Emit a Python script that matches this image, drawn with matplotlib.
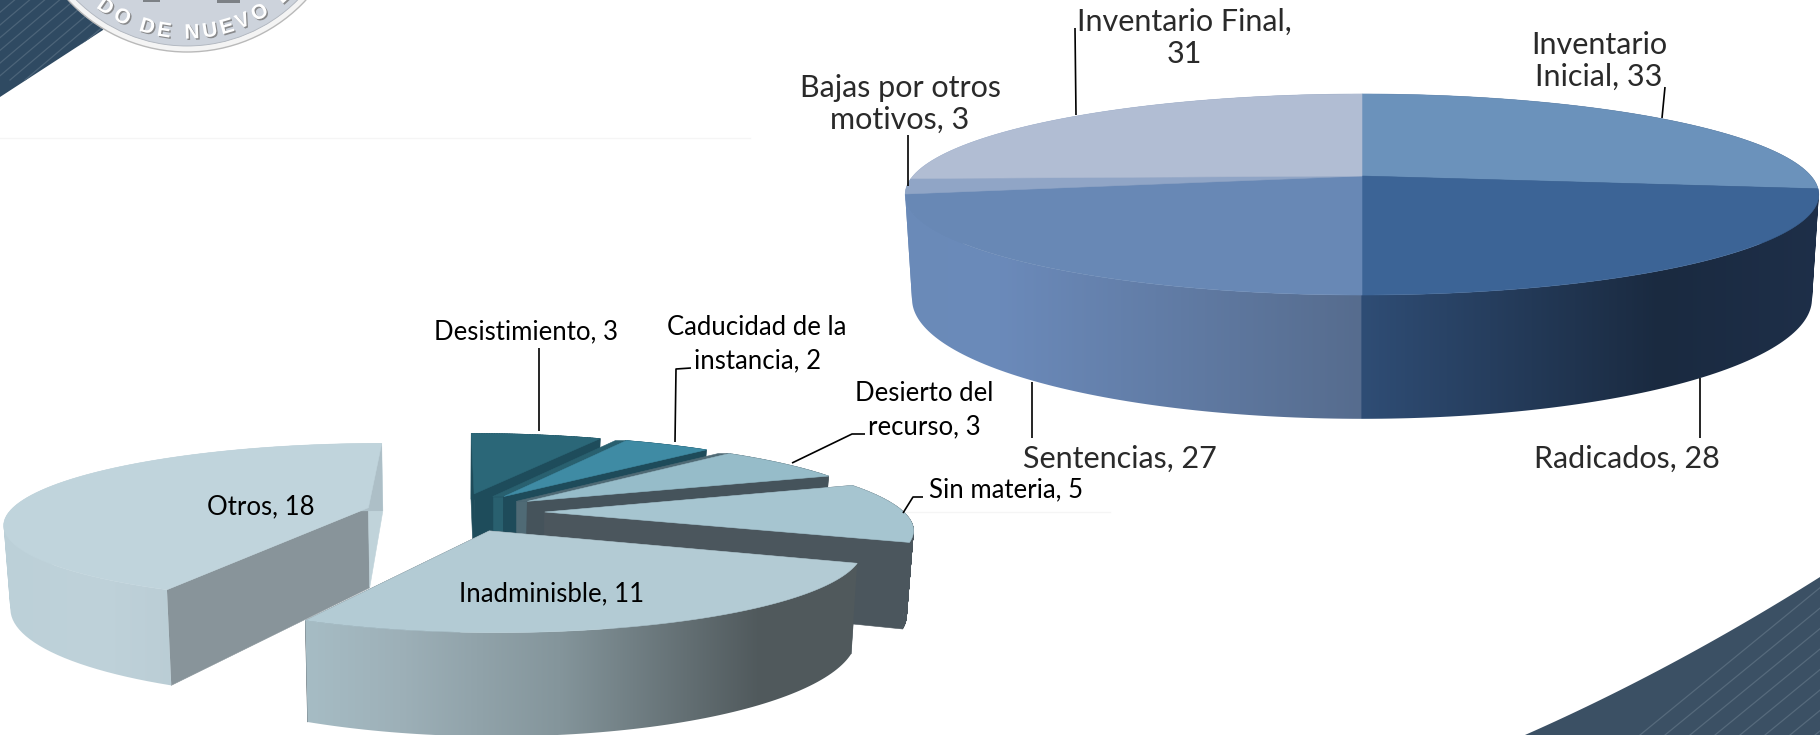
import numpy as np
import matplotlib
matplotlib.use('Agg')
import matplotlib.pyplot as plt
import matplotlib.patheffects as pe
from matplotlib.colors import to_rgb
from matplotlib.path import Path
from matplotlib.patches import Polygon, Circle, Rectangle, PathPatch

# top pie, clockwise from 12 o'clock
labels_a = ['Inventario\nInicial, 33', 'Radicados, 28', 'Sentencias, 27',
            'Bajas por otros\nmotivos, 3', 'Inventario Final,\n31']
values_a = [33, 28, 27, 3, 31]

# exploded pie, clockwise from 12 o'clock
labels_b = ['Desistimiento, 3', 'Caducidad de la\ninstancia, 2', 'Desierto del\nrecurso, 3',
            'Sin materia, 5', 'Inadminisble, 11', 'Otros, 18']
values_b = [3, 2, 3, 5, 11, 18]

# label centres and leader lines in pixels
pos_a = [(1599, 61), (1627, 459), (1120, 459), (900, 104), (1184, 38)]
pos_b = [(526, 332), (757, 344), (924, 410), (1006, 490), (552, 594), (261, 507)]
leaders = [[(1665, 87), (1662, 118)], [(1700, 378), (1700, 438)], [(1032, 382), (1032, 438)],
           [(908, 135), (908, 186)], [(1075, 28), (1076, 115)],
           [(539, 348), (539, 431)], [(691, 368), (676, 369), (675, 442)],
           [(865, 434), (852, 434), (792, 463)], [(923, 497), (913, 497), (903, 513)]]

top_a = ['#6b92bb', '#3c6496', '#6888b5', '#90a5c6', '#b1bdd3']
top_b = ['#2b6778', '#3f8ba4', '#96bcc9', '#a6c5d0', '#b3cbd4', '#c0d4dc']
start_b = ['#1e4c5b', '#1e4b5a', '#45535b', '#4a5660', '#4b565d', '#88949a']
end_b = ['#1e4c5b', '#1e4b5a', '#45535b', '#4b565d', '#4b565d', '#c0d3da']
sliver_b = {1: '#29606f', 2: '#4f6a75'}
radius_b = [1, 1, 1, 1, 0.975, 1]

K = 0.184       # perspective
RATIO = 0.2163  # tilt
DEPTH = 0.225
SHRINK = 0.985

fig = plt.figure(figsize=(18.2, 7.35), dpi=100)
ax = fig.add_axes([0, 0, 1, 1])
ax.set_axis_off()
z = [10]


def next_z():
    z[0] += 1
    return z[0]


def flat(xs, ys, color):
    ax.add_patch(Polygon(np.column_stack([xs, ys]), closed=True, fc=color, ec=color, lw=0.4, zorder=next_z()))


def band_path(x0, y0, x1, y1):
    # the wall folds over at the silhouette, so join same-handed quads
    parts = []
    for j in range(len(x0) - 1):
        q = np.array([(x0[j], y0[j]), (x0[j + 1], y0[j + 1]), (x1[j + 1], y1[j + 1]), (x1[j], y1[j])])
        area = np.sum(q[:, 0] * np.roll(q[:, 1], -1) - np.roll(q[:, 0], -1) * q[:, 1])
        if area < 0:
            q = q[::-1]
        parts.append(Path(np.vstack([q, q[0]]), closed=True))
    return Path.make_compound_path(*parts)


def flat_band(path, color):
    ax.add_patch(PathPatch(path, fc=color, ec=color, lw=0.4, zorder=next_z()))


def gradient(path, stops, colors):
    # horizontal colour ramp clipped to the wall
    grid = np.linspace(stops[0], stops[-1], 2000)
    rgb = np.array([to_rgb(c) for c in colors])
    img = np.stack([np.interp(grid, stops, rgb[:, i]) for i in range(3)], axis=-1)[None, :, :]
    im = ax.imshow(img, extent=(stops[0], stops[-1], 800, -50), aspect='auto', zorder=next_z(), interpolation='nearest')
    im.set_clip_path(path, transform=ax.transData)


def slices(values):
    ang = 90 - np.cumsum([0] + list(values)) / sum(values) * 360
    return ang[:-1], ang[1:]


def project(X, Y, cx, cy, a):
    w = 1 + K * Y
    return cx + a * X / w, cy - a * RATIO * Y / w, a * DEPTH / w


def slice_geometry(t0, t1, cx, cy, a, explode, radius=1):
    mid = np.radians((t0 + t1) / 2)
    ox, oy = explode * np.cos(mid), explode * np.sin(mid)
    t = np.radians(np.linspace(t0, t1, 80))
    ax_, ay_, ad_ = project(ox, oy, cx, cy, a)
    xs, ys, ds = project(ox + radius * np.cos(t), oy + radius * np.sin(t), cx, cy, a)
    return (ax_, ay_, ad_), xs, ys, ds


def low(x, cx):
    return cx + (x - cx) * SHRINK


# background corners
corner_tl = Polygon([(0, 0), (110, 0), (103, 30), (0, 97)], closed=True, fc='#2f4a62', ec='none', zorder=1)
ax.add_patch(corner_tl)
curve_x = np.linspace(1525, 1820, 30)
curve_y = np.polyval(np.polyfit([1525, 1700, 1820], [735, 648, 577], 2), curve_x)
corner_br = Polygon(np.column_stack([np.r_[curve_x, 1820], np.r_[curve_y, 735]]), closed=True, fc='#3b5064', ec='none', zorder=1)
ax.add_patch(corner_br)
for off in range(-60, 130, 15):
    ln, = ax.plot([off - 20, off + 110], [80, -30], color='#4c6479', lw=0.9, zorder=2)
    ln.set_clip_path(corner_tl)
for off in [1640, 1665, 1690, 1715, 1740, 1765, 1790, 1815, 1840]:
    ln, = ax.plot([off, off + 220], [735, 555], color='#566a7c', lw=0.9, zorder=2)
    ln.set_clip_path(corner_br)
ax.plot([0, 750], [138, 138], color='#f5f5f5', lw=1, zorder=1)
ax.plot([560, 1110], [512, 512], color='#f5f5f5', lw=1, zorder=1)

# seal
ax.add_patch(Circle((187, -110), 162, fc='#f4f4f4', ec='#b9b9b9', lw=1, zorder=3))
ax.add_patch(Circle((187, -110), 156, fc='#cdd3dc', ec='#aeb4bd', lw=0.6, zorder=3))
ax.add_patch(Rectangle((143, 0), 17, 2, fc='#7d8186', ec='none', zorder=4))
ax.add_patch(Rectangle((217, 0), 23, 3, fc='#7d8186', ec='none', zorder=4))
seal_text = [('D', 105), ('O', 122), ('D', 147), ('E', 164), ('N', 192), ('U', 210), ('E', 227), ('V', 243), ('O', 260), ('L', 283)]
for ch, x in seal_text:
    rot = np.degrees(np.arcsin((x - 187) / 143))
    ax.text(x, -110 + 143 * np.cos(np.radians(rot)), ch, fontsize=15, fontweight='bold', family='Liberation Sans',
            color='white', rotation=rot, ha='center', va='center', rotation_mode='anchor', zorder=5,
            clip_on=True, path_effects=[pe.withSimplePatchShadow(offset=(1, -1), shadow_rgbFace='#777777', alpha=0.8)])

# top pie
cx, cy, a = 1362, 176, 449
stops = [895, 1000, 1361, 1362, 1660, 1825]
cols = ['#6a8ab8', '#6b8aba', '#566c8e', '#2f4d75', '#1a2a40', '#1e2f49']
t0s, t1s = slices(values_a)
geom = [slice_geometry(s, e, cx, cy, a, 0) for s, e in zip(t0s, t1s)]
for (_, xs, ys, ds) in geom:
    gradient(band_path(xs, ys, low(xs, cx), ys + ds), stops, cols)
for (apex, xs, ys, ds), c in zip(geom, top_a):
    flat(np.r_[apex[0], xs], np.r_[apex[1], ys], c)

# exploded pie
cx, cy, a = 455, 512, 359
t0s, t1s = slices(values_b)
ramps = {
    4: ([280, 400, 560, 760, 870], ['#a9c0c8', '#9db0b8', '#84959b', '#50595c', '#50595c']),
    5: ([0, 100, 385], ['#bcd0d8', '#bfd2da', '#adbfc7']),
}
# Otros first, it sits apart on the left
for i in [5, 0, 1, 2, 3, 4]:
    apex, xs, ys, ds = slice_geometry(t0s[i], t1s[i], cx, cy, a, 0.25, radius_b[i])
    if i in sliver_b:
        # thin strip showing left of the slice's back edge
        dx = 11
        flat([apex[0] - dx, xs[0] - dx, xs[0], apex[0]], [apex[1], ys[0], ys[0], apex[1]], sliver_b[i])
        flat([apex[0] - dx, apex[0], apex[0], apex[0] - dx],
             [apex[1], apex[1], apex[1] + apex[2], apex[1] + apex[2]], sliver_b[i])
    for k, col in ((0, start_b[i]), (-1, end_b[i])):
        px = [apex[0], xs[k], low(xs[k], cx), low(apex[0], cx)]
        py = [apex[1], ys[k], ys[k] + ds[k], apex[1] + apex[2]]
        flat(px, py, col)
    wall = band_path(xs, ys, low(xs, cx), ys + ds)
    if i in ramps:
        gradient(wall, *ramps[i])
    else:
        flat_band(wall, end_b[i])
    flat(np.r_[apex[0], xs], np.r_[apex[1], ys], top_b[i])

# labels
for txt, (x, y) in zip(labels_a, pos_a):
    ax.text(x, y, txt, fontsize=22, family='Lato', color='#2a2a2a', ha='center', va='center',
            linespacing=1.15, zorder=200)
for txt, (x, y) in zip(labels_b, pos_b):
    ax.text(x, y, txt, fontsize=18.5, family='Lato', color='black', ha='center', va='center',
            linespacing=1.4, zorder=200)
for pts in leaders:
    ax.plot(*zip(*pts), color='black', lw=1.2, zorder=199, solid_capstyle='butt')

ax.set_xlim(0, 1820)
ax.set_ylim(735, 0)
fig.savefig('out.png', dpi=100)
